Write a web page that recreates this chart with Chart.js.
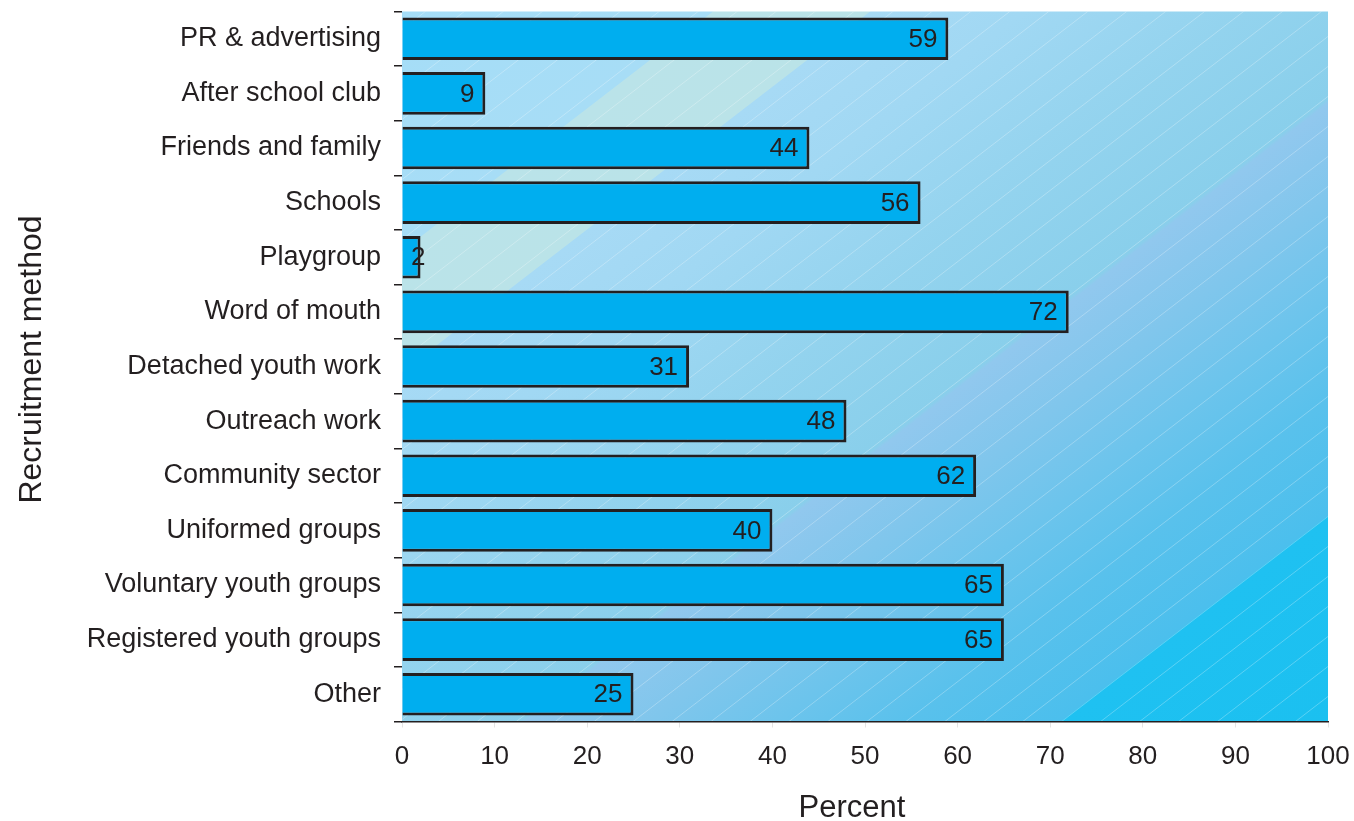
<!DOCTYPE html>
<html>
<head>
<meta charset="utf-8">
<script src="https://cdn.jsdelivr.net/npm/chart.js@4/dist/chart.umd.min.js"></script>
<style>
  html, body { margin: 0; padding: 0; background: #ffffff; }
  #wrap { width: 1354px; height: 821px; position: relative; }
</style>
</head>
<body>
<div id="wrap"><canvas id="chart" width="1354" height="821"></canvas></div>
<script>
// Recruitment methods and the share (percent) using each one
const categories = [
  'PR & advertising',
  'After school club',
  'Friends and family',
  'Schools',
  'Playgroup',
  'Word of mouth',
  'Detached youth work',
  'Outreach work',
  'Community sector',
  'Uniformed groups',
  'Voluntary youth groups',
  'Registered youth groups',
  'Other'
];
const percentValues = [59, 9, 44, 56, 2, 72, 31, 48, 62, 40, 65, 65, 25];
const percentTicks = [0, 10, 20, 30, 40, 50, 60, 70, 80, 90, 100];
const xTitle = 'Percent';
const yTitle = 'Recruitment method';

const FONT = '"Liberation Sans", Arial, Helvetica, sans-serif';
const INK = '#231F20';

// Diagonal banded backdrop behind the bars
const plotBackground = {
  id: 'plotBackground',
  beforeDraw(chart) {
    const { ctx, chartArea: a } = chart;
    const w = a.right - a.left, h = a.bottom - a.top;
    const k = 0.77;                 // slope of the bands
    const sMax = h + k * w;
    const t = sMax / (k * k + 1);
    const g = ctx.createLinearGradient(a.left, a.top, a.left + k * t, a.top + t);
    const stops = [
      [0, '#A5DDF7'], [239, '#A7DDF6'],
      [240, '#BAE3E9'], [360, '#BAE3E8'],
      [361, '#A7DAF5'], [480, '#A1D8F3'], [650, '#93D3EE'], [800, '#89CFEB'],
      [805, '#91C8EE'], [900, '#80C6EC'], [1000, '#6CC4EC'], [1100, '#59C1EC'],
      [1217, '#4BBFED'], [1218, '#1FC1F1'], [sMax, '#1BC0F0']
    ];
    stops.forEach(([s, c]) => g.addColorStop(Math.min(1, s / sMax), c));
    ctx.save();
    ctx.fillStyle = g;
    ctx.fillRect(a.left, a.top, w, h);

    // fine white hairlines following the bands
    ctx.beginPath();
    ctx.rect(a.left, a.top, w, h);
    ctx.clip();
    ctx.strokeStyle = 'rgba(255,255,255,0.35)';
    ctx.lineWidth = 0.8;
    ctx.beginPath();
    for (let s = 18; s < sMax + 60; s += 30) {
      ctx.moveTo(a.left, a.top + s);
      ctx.lineTo(a.right, a.top + s - k * w);
    }
    ctx.stroke();
    ctx.restore();
  }
};

// Value printed inside the end of each bar
const barValueLabels = {
  id: 'barValueLabels',
  afterDatasetsDraw(chart) {
    const { ctx, chartArea: a } = chart;
    const meta = chart.getDatasetMeta(0);
    const data = chart.data.datasets[0].data;
    ctx.save();
    ctx.font = '26px ' + FONT;
    ctx.fillStyle = INK;
    ctx.textAlign = 'right';
    ctx.textBaseline = 'middle';
    meta.data.forEach((bar, i) => {
      const text = String(data[i]);
      const tw = ctx.measureText(text).width;
      const x = Math.max(bar.x - 11, a.left + 9 + tw);
      ctx.fillText(text, x, bar.y + 1);
    });
    ctx.restore();
  }
};

// Axis titles, placed relative to the plot area
const axisTitles = {
  id: 'axisTitles',
  afterDraw(chart) {
    const { ctx, chartArea: a } = chart;
    ctx.save();
    ctx.fillStyle = INK;
    ctx.textAlign = 'center';
    ctx.textBaseline = 'middle';
    ctx.font = '31px ' + FONT;
    ctx.fillText(xTitle, (a.left + a.right) / 2 - 13, a.bottom + 86.5);
    ctx.translate(32, (a.top + a.bottom) / 2 - 7);
    ctx.rotate(-Math.PI / 2);
    ctx.font = '32px ' + FONT;
    ctx.fillText(yTitle, 0, 0);
    ctx.restore();
  }
};

new Chart(document.getElementById('chart'), {
  type: 'bar',
  data: {
    labels: categories,
    datasets: [{
      data: percentValues,
      backgroundColor: '#00AEEF',
      borderColor: INK,
      borderWidth: 3,
      borderSkipped: 'start',
      barPercentage: 0.78,
      categoryPercentage: 1
    }]
  },
  options: {
    indexAxis: 'y',
    responsive: false,
    animation: false,
    devicePixelRatio: 1,
    layout: { padding: { top: 11.5, right: 26, left: 0, bottom: 0 } },
    plugins: {
      legend: { display: false },
      tooltip: { enabled: false }
    },
    scales: {
      x: {
        type: 'linear',
        position: 'bottom',
        min: 0,
        max: 100,
        afterFit(scale) {
          scale.height = 99.5;
          scale.paddingLeft = 0;
          scale.paddingRight = 0;
        },
        afterBuildTicks(scale) { scale.ticks = percentTicks.map(v => ({ value: v })); },
        ticks: { color: INK, font: { size: 26, family: FONT }, padding: 14 },
        grid: { drawOnChartArea: false, drawTicks: true, tickLength: 6, color: '#E4E4E4' },
        border: { display: true, color: INK, width: 1.5 },
        title: { display: false }
      },
      y: {
        afterFit(scale) {
          scale.width = 402;
          scale.paddingTop = 0;
          scale.paddingBottom = 0;
        },
        ticks: { color: INK, font: { size: 27, family: FONT }, padding: 13 },
        grid: { drawOnChartArea: false, drawTicks: true, tickLength: 8, color: INK, lineWidth: 1.5, offset: true },
        border: { display: false },
        title: { display: false }
      }
    }
  },
  plugins: [plotBackground, barValueLabels, axisTitles]
});
</script>
</body>
</html>
